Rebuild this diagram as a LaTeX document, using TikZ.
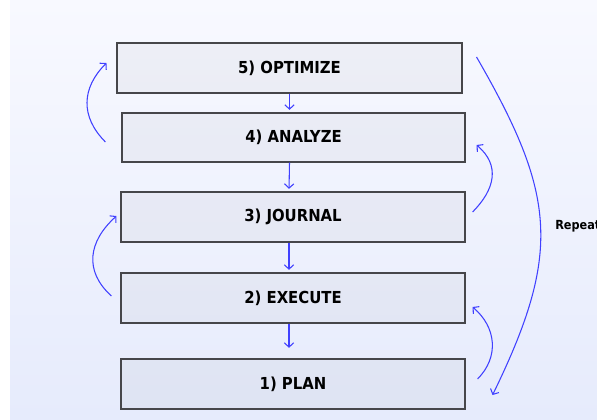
\documentclass[tikz,border=0pt]{standalone}
\usepackage{fontspec}
\usepackage{xcolor}
\usepackage{tikz}
\usetikzlibrary{arrows.meta, calc}
\newfontfamily\boxfont{DejaVu Sans Condensed}
\definecolor{bgtop}{RGB}{248,249,255}
\definecolor{bgbottom}{RGB}{230,235,252}
\definecolor{boxline}{RGB}{70,70,74}
\definecolor{arrowblue}{RGB}{64,64,255}

\begin{document}
\begin{tikzpicture}[
        x=0.75pt, y=-0.75pt,
        stage/.style={draw=boxline, line width=0.8pt, fill=gray, fill opacity=0.07, text opacity=1, minimum width=258pt, minimum height=37.5pt, inner sep=0pt, font=\boxfont\bfseries\fontsize{12.4}{14}\selectfont},
        flow/.style={-{Straight Barb[length=3.2pt, width=7pt]}, draw=arrowblue, line width=0.8pt, shorten >=2pt},
        backarrow/.style={flow, shorten >=0pt, looseness=1.15}
    ]
        \useasboundingbox (0,0) rectangle (597,419);
        \clip (0,0) rectangle (597,419);
        \fill[white] (0,0) rectangle (597,419);
        \shade[top color=bgtop, bottom color=bgbottom] (10,0) rectangle (597,419);

        \node[stage, minimum width=258.75pt] (optimize) at (289.5,68) {5) OPTIMIZE};
        \node[stage, minimum width=257.25pt, minimum height=36.75pt] (analyze) at (293.5,137.5) {4) ANALYZE};
        \node[stage] (journal) at (293,217) {3) JOURNAL};
        \node[stage] (execute) at (293,298) {2) EXECUTE};
        \node[stage] (plan) at (293,384) {1) PLAN};
        \node[anchor=west, inner sep=0pt, font=\boxfont\bfseries\fontsize{9.4}{11}\selectfont] (repeat) at (555,226) {Repeat};

        % steps downwards
        \draw[flow] (optimize.south) -- (optimize.south |- analyze.north);
        \draw[flow] ([xshift=-3pt]analyze.south) -- ([xshift=-3pt]journal.north);
        \draw[flow] ([xshift=-3pt]journal.south) -- ([xshift=-3pt]execute.north);
        \draw[flow, shorten >=8pt] ([xshift=-3pt]execute.south) -- ([xshift=-3pt]plan.north);

        % loops back
        \draw[backarrow] ($(analyze.west)+(-16,4.5)$) to[out=135, in=225] ($(optimize.west)+(-10,-5)$);
        \draw[backarrow, looseness=1.2] ($(execute.west)+(-9,-2)$) to[out=138, in=222] ($(journal.west)+(-4,-1)$);
        \draw[backarrow, looseness=1.2] ($(journal.east)+(7,-5)$) to[out=45, in=-40] ($(analyze.east)+(11,7.5)$);
        \draw[backarrow, looseness=1.1] ($(plan.east)+(12,-5)$) to[out=45, in=-40] ($(execute.east)+(7,9)$);
        \draw[backarrow, looseness=1.2] ($(optimize.east)+(14,-11)$) to[out=-60, in=64] ($(plan.east)+(27,11)$);
    \end{tikzpicture}
\end{document}
